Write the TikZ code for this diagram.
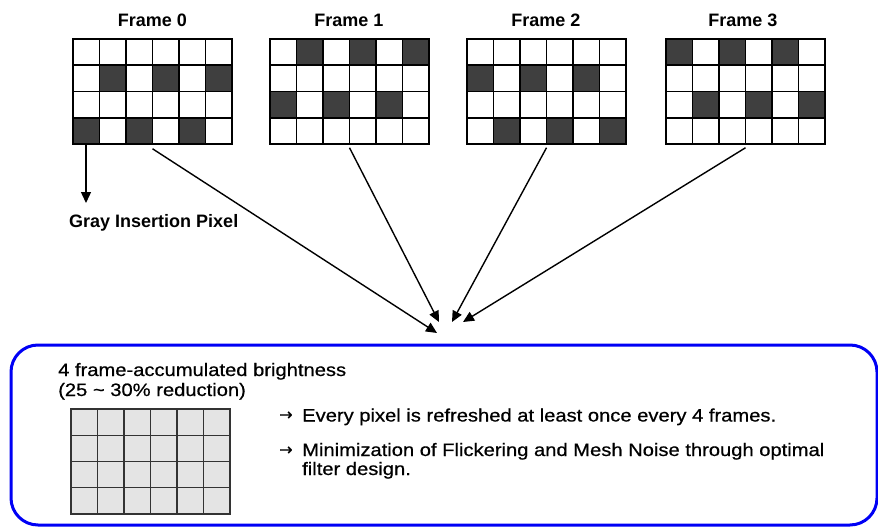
\documentclass[tikz,border=0pt]{standalone}
\usepackage{fontspec}
\setmainfont{Liberation Sans}
\newfontfamily\bodyfont[FakeStretch=1.12,FakeBold=0.6]{Liberation Sans}
\newfontfamily\arrfont[FakeBold=0.8]{DejaVu Sans}
\usetikzlibrary{arrows.meta}
\definecolor{cellgray}{HTML}{3F3F3F}
\definecolor{lightcell}{HTML}{E4E4E4}
\definecolor{gridgray}{HTML}{333333}
\definecolor{boxblue}{HTML}{0000F5}
\tikzset{
  frm/.style={draw=black, line width=1.5pt, minimum width=159pt, minimum height=105pt, inner sep=0pt},
  gridln/.style={line width=1.5pt, draw=black},
  lbl/.style={font=\fontsize{18}{20}\selectfont\bfseries, inner sep=0pt},
  bodytxt/.style={font=\bodyfont\fontsize{18}{20}\selectfont, inner sep=0pt},
  arrtxt/.style={font=\arrfont\fontsize{16}{18}\selectfont, inner sep=0pt},
  conn/.style={line width=1.4pt, -{Triangle[length=11pt,width=10pt]}},
}
\newcommand\pixframe[4]{%
  \foreach \c/\r in {#4} \fill[cellgray] (#2+\c*26.5, #3+\r*26.25) rectangle ++(26.5,26.25);
  \foreach \i in {1,...,5} \draw[gridln] (#2+\i*26.5,#3) -- ++(0,105);
  \foreach \j in {1,2,3} \draw[gridln] (#2,#3+\j*26.25) -- ++(159,0);
  \node[frm] (#1) at (#2+79.5,#3+52.5) {};
}
\begin{document}
\begin{tikzpicture}[x=1pt,y=-1pt]
\useasboundingbox (0,0) rectangle (878,527);

% frames
\pixframe{f0}{73}{39}{1/1,3/1,5/1,0/3,2/3,4/3}
\pixframe{f1}{270}{39}{1/0,3/0,5/0,0/2,2/2,4/2}
\pixframe{f2}{467}{39}{0/1,2/1,4/1,1/3,3/3,5/3}
\pixframe{f3}{666}{39}{0/0,2/0,4/0,1/2,3/2,5/2}

\node[lbl, anchor=base] (l0) at (152.5,27) {Frame 0};
\node[lbl, anchor=base] (l1) at (349,27) {Frame 1};
\node[lbl, anchor=base] (l2) at (546,27) {Frame 2};
\node[lbl, anchor=base] (l3) at (743,27) {Frame 3};

% gray insertion pixel
\coordinate (gp) at (86,144);
\coordinate (gt) at (86,203);
\draw[conn] (gp) -- (gt);
\node[lbl, anchor=base west] (gl) at (69,227) {Gray Insertion Pixel};

% converging arrows
\coordinate (e0) at (437,333);
\coordinate (e1) at (439,322);
\coordinate (e2) at (452,322);
\coordinate (e3) at (463,322);
\draw[conn] ([yshift=-4pt]f0.south) -- (e0);
\draw[conn] ([yshift=-3pt]f1.south) -- (e1);
\draw[conn] ([yshift=-3pt]f2.south) -- (e2);
\draw[conn] ([yshift=-3pt]f3.south) -- (e3);

% bottom box
\draw[draw=boxblue, line width=3pt, rounded corners=27pt] (11,345) rectangle (877,525);
\node[inner sep=0pt, minimum width=866pt, minimum height=180pt] (acc) at (444,435) {};

\node[bodytxt, anchor=base west] (t1) at (58,376) {4 frame-accumulated brightness};
\node[bodytxt, anchor=base west] (t2) at (58,396) {(25 \textasciitilde{} 30\% reduction)};

% accumulated grid
\fill[lightcell] (71,409) rectangle (230,514);
\foreach \i in {1,...,5} \draw[line width=1.4pt, gridgray] (71+\i*26.5,409) -- ++(0,105);
\foreach \j in {1,2,3} \draw[line width=1.4pt, gridgray] (71,409+\j*26.25) -- ++(159,0);
\node[draw=gridgray, line width=1.4pt, minimum width=159pt, minimum height=105pt, inner sep=0pt] (g) at (150.5,461.5) {};

% bullet texts
\node[arrtxt, anchor=base west] (a1) at (279,420) {→};
\node[bodytxt, anchor=base west] (b1) at (302,421.5) {Every pixel is refreshed at least once every 4 frames.};
\node[arrtxt, anchor=base west] (a2) at (279,455) {→};
\node[bodytxt, anchor=base west] (b2) at (302,456) {Minimization of Flickering and Mesh Noise through optimal};
\node[bodytxt, anchor=base west] (b3) at (302,475) {filter design.};
\end{tikzpicture}
\end{document}
